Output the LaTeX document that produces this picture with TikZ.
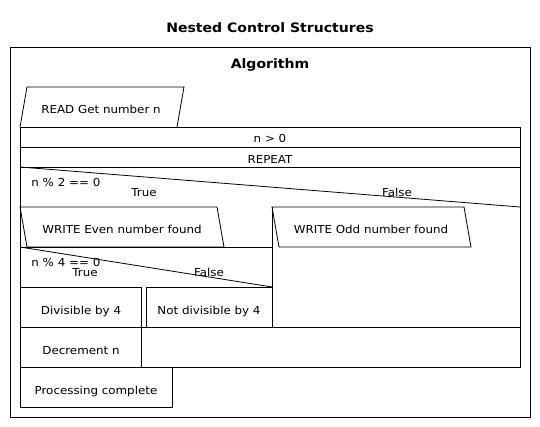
\documentclass[tikz,border=0pt]{standalone}
\usepackage{fontspec}
\setmainfont{DejaVu Sans}[FakeStretch=1.08]
\usetikzlibrary{positioning}

\tikzset{
  lbl/.style={anchor=base,inner sep=0pt},
  lblleft/.style={anchor=base west,inner sep=0pt},
  heading/.style={anchor=base,inner sep=0pt,font=\bfseries\fontsize{13}{15}\selectfont}
}

\begin{document}
\begin{tikzpicture}[x=1pt,y=-1pt,line width=0.8pt,font=\fontsize{11}{13}\selectfont]
      \useasboundingbox (0,0) rectangle (540,427);
      % titles and frame
      \node[heading] (title) at (270,33) {Nested Control Structures};
      \draw (10,47) rectangle (530,417);
      \node[heading] (algo) at (270,69) {Algorithm};
      % input
      \draw (20,127) -- (27,87) -- (184,87) -- (177,127);
      \node[lbl] (read) at (101,114) {READ Get number n};
      % loop block
      \draw (20,127) rectangle (520,367);
      \draw (20,147) -- (520,147);
      \draw (20,167) -- (520,167);
      \node[lbl] (cond) at (270,143) {n > 0};
      \node[lbl] (rep) at (270,163.5) {REPEAT};
      % first decision
      \draw (20,167) -- (520,207);
      \node[lblleft] (ifa) at (31,187) {n \% 2 == 0};
      \node[lbl] (truea) at (144,196.5) {True};
      \node[lbl] (falsea) at (397,196.5) {False};
      \draw (272,207) -- (272,327);
      \draw (20,207) -- (217,207) -- (224,247) -- (27,247) -- cycle;
      \node[lbl] (even) at (122,234) {WRITE Even number found};
      \draw (272,207) -- (464,207) -- (471,247) -- (279,247) -- cycle;
      \node[lbl] (odd) at (371,234) {WRITE Odd number found};
      % second decision
      \draw (20,247) -- (272,247);
      \draw (20,247) -- (272,287);
      \node[lblleft] (ifb) at (31,267) {n \% 4 == 0};
      \node[lbl] (trueb) at (85,276.5) {True};
      \node[lbl] (falseb) at (209,276.5) {False};
      \draw (20,287) rectangle (141,327);
      \node[lbl] (div) at (81,314) {Divisible by 4};
      \draw (146,287) rectangle (272,327);
      \node[lbl] (ndiv) at (209,314) {Not divisible by 4};
      % end of loop body
      \draw (20,327) -- (520,327);
      \draw (141,327) -- (141,367);
      \node[lbl] (dec) at (81,354) {Decrement n};
      % after loop
      \draw (20,367) rectangle (172,407);
      \node[lbl] (done) at (96,394) {Processing complete};
    \end{tikzpicture}
\end{document}
